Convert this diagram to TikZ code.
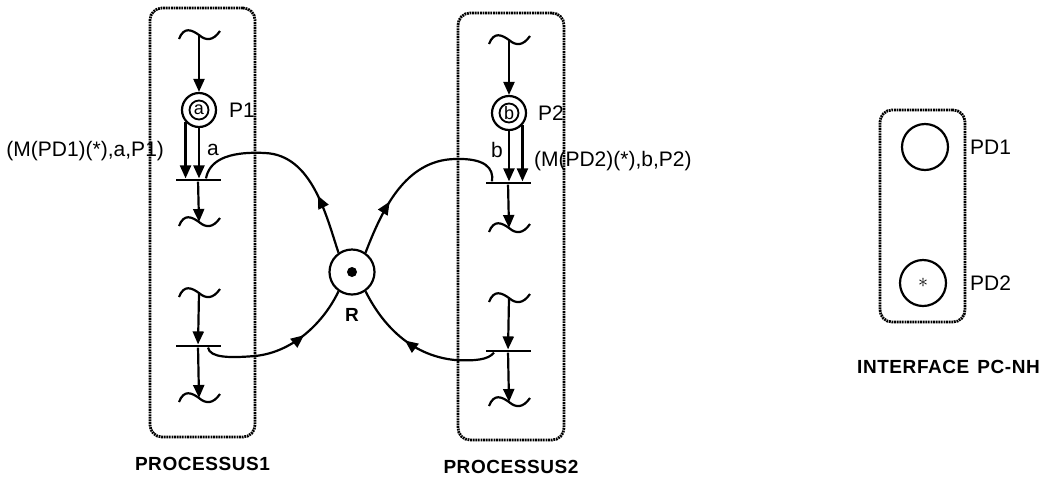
\documentclass[tikz,border=0pt]{standalone}
\usepackage{fontspec}
\setmainfont{Liberation Sans}
\usetikzlibrary{positioning,arrows.meta,decorations.markings,calc}
\tikzset{
    procbox/.style={
        rectangle,
        draw,
        rounded corners=6pt,
        line width=1.4pt,
        dash pattern=on 0.9pt off 0.4pt,
        inner sep=0pt,
    },
    place/.style={
        circle,
        draw,
        line width=1.1pt,
        minimum size=17pt,
        inner sep=0pt,
    },
    token/.style={
        circle,
        draw,
        line width=0.9pt,
        minimum size=9.5pt,
        inner sep=0pt,
        font=\fontsize{9}{9}\selectfont,
    },
    dot/.style={
        circle,
        fill,
        minimum size=5pt,
        inner sep=0pt,
    },
    trans/.style={
        rectangle,
        fill,
        minimum width=22.5pt,
        minimum height=1.2pt,
        inner sep=0pt,
    },
    arc/.style={
        -{Triangle[length=6.5pt,width=5.5pt]},
        line width=1.1pt,
    },
    midarrow/.style={
        line width=1.1pt,
        postaction={decorate},
        decoration={markings,
            mark=at position #1 with {\arrow{Triangle[length=6.5pt,width=5.5pt]}}},
    },
    lbl/.style={
        font=\fontsize{10.5}{12}\selectfont,
    },
    title/.style={
        font=\fontsize{9.5}{12}\selectfont\bfseries\addfontfeatures{LetterSpace=3},
    },
    wave/.pic={
        \draw[line width=1.1pt] (-20,4) .. controls (-15,-9) and (-7,-5) .. (0,0)
            .. controls (7,6) and (14,6) .. (21,-4);
    },
}

\begin{document}
\begin{tikzpicture}[x=0.5pt, y=-0.5pt]
    \useasboundingbox (0,0) rectangle (1059,483);

    % boxes
    \node[procbox, minimum width=52.5pt, minimum height=214.5pt] (proc1) at (202.5,222.5) {};
    \node[procbox, minimum width=53pt, minimum height=213.5pt] (proc2) at (511,226.5) {};
    \node[procbox, minimum width=42.5pt, minimum height=106pt] (iface) at (922.5,216) {};

    \node[title, below=6pt of proc1] (tproc1) {PROCESSUS1};
    \node[title, below=6pt of proc2] (tproc2) {PROCESSUS2};
    \node[title, below=15pt of iface, xshift=13pt] (tiface) {INTERFACE\hspace{4pt}PC-NH};

    % processus 1
    \coordinate (w1) at (199,35);
    \coordinate (w2) at (199,222);
    \coordinate (w3) at (199,293);
    \coordinate (w4) at (199,398);
    \foreach \w in {w1,w2,w3,w4} {\pic at (\w) {wave};}
    \node[place] (p1) at (199,110) {};
    \node[token] (p1tok) at (p1) {a};
    \node[lbl, right=2.5pt of p1] (p1lab) {P1};
    \node[trans] (t1) at (198,180) {};
    \node[trans] (t3) at (198,346) {};

    \draw[arc] (w1) -- (p1);
    \draw[arc] (p1.south) -- (p1.south |- t1.north);
    \draw[arc] (p1.222) -- (p1.222 |- t1.north);
    \draw[arc] (t1) -- (w2);
    \draw[arc] (w3) -- (t3);
    \draw[arc] (t3) -- (w4);
    \node[lbl] (alab) at (213,150) {a};
    \node[lbl, anchor=east] (m1lab) at (171,151) {(M(PD1)(*),a,P1)};

    % processus 2
    \coordinate (v1) at (509,40);
    \coordinate (v2) at (509,228);
    \coordinate (v3) at (509,298);
    \coordinate (v4) at (509,402);
    \foreach \v in {v1,v2,v3,v4} {\pic at (\v) {wave};}
    \node[place] (p2) at (509,113) {};
    \node[token] (p2tok) at (p2) {b};
    \node[lbl, right=2pt of p2] (p2lab) {P2};
    \node[trans] (t2) at (508,183) {};
    \node[trans] (t4) at (508,351) {};

    \draw[arc] (v1) -- (p2);
    \draw[arc] (p2.south) -- (p2.south |- t2.north);
    \draw[arc] (p2.318) -- (p2.318 |- t2.north);
    \draw[arc] (t2) -- (v2);
    \draw[arc] (v3) -- (t4);
    \draw[arc] (t4) -- (v4);
    \node[lbl] (blab) at (497,150) {b};
    \node[lbl, anchor=west] (m2lab) at (527,161) {(M(PD2)(*),b,P2)};

    % ressource R
    \node[place, minimum size=22.5pt] (r) at (352,272) {};
    \node[dot] (rdot) at (r) {};
    \node[title, below=3pt of r] (rlab) {R};

    \draw[midarrow=0.3] (r.125) .. controls (326,215) and (312,155) .. (265,153)
        .. controls (225,151) and (209,162) .. ([xshift=4pt]t1.north);
    \draw[midarrow=0.3] (r.55) .. controls (382,210) and (405,160) .. (455,159)
        .. controls (485,158) and (494,168) .. ([xshift=-8pt]t2.north);
    \draw[midarrow=0.65] ([xshift=5pt]t3.south) .. controls (210,358) and (230,358) .. (255,356)
        .. controls (295,352) and (325,320) .. (r.235);
    \draw[midarrow=0.6] ([xshift=-7pt]t4.south) .. controls (488,360) and (475,361) .. (455,360)
        .. controls (415,356) and (385,330) .. (r.305);

    % interface
    \node[place, minimum size=23pt] (pd1) at (925,147) {};
    \node[place, minimum size=23pt] (pd2) at (923,283) {};
    \node (pdstar) at (pd2) {$\ast$};
    \node[lbl, right=7pt of pd1] (pd1lab) {PD1};
    \node[lbl, right=8pt of pd2] (pd2lab) {PD2};
\end{tikzpicture}
\end{document}
